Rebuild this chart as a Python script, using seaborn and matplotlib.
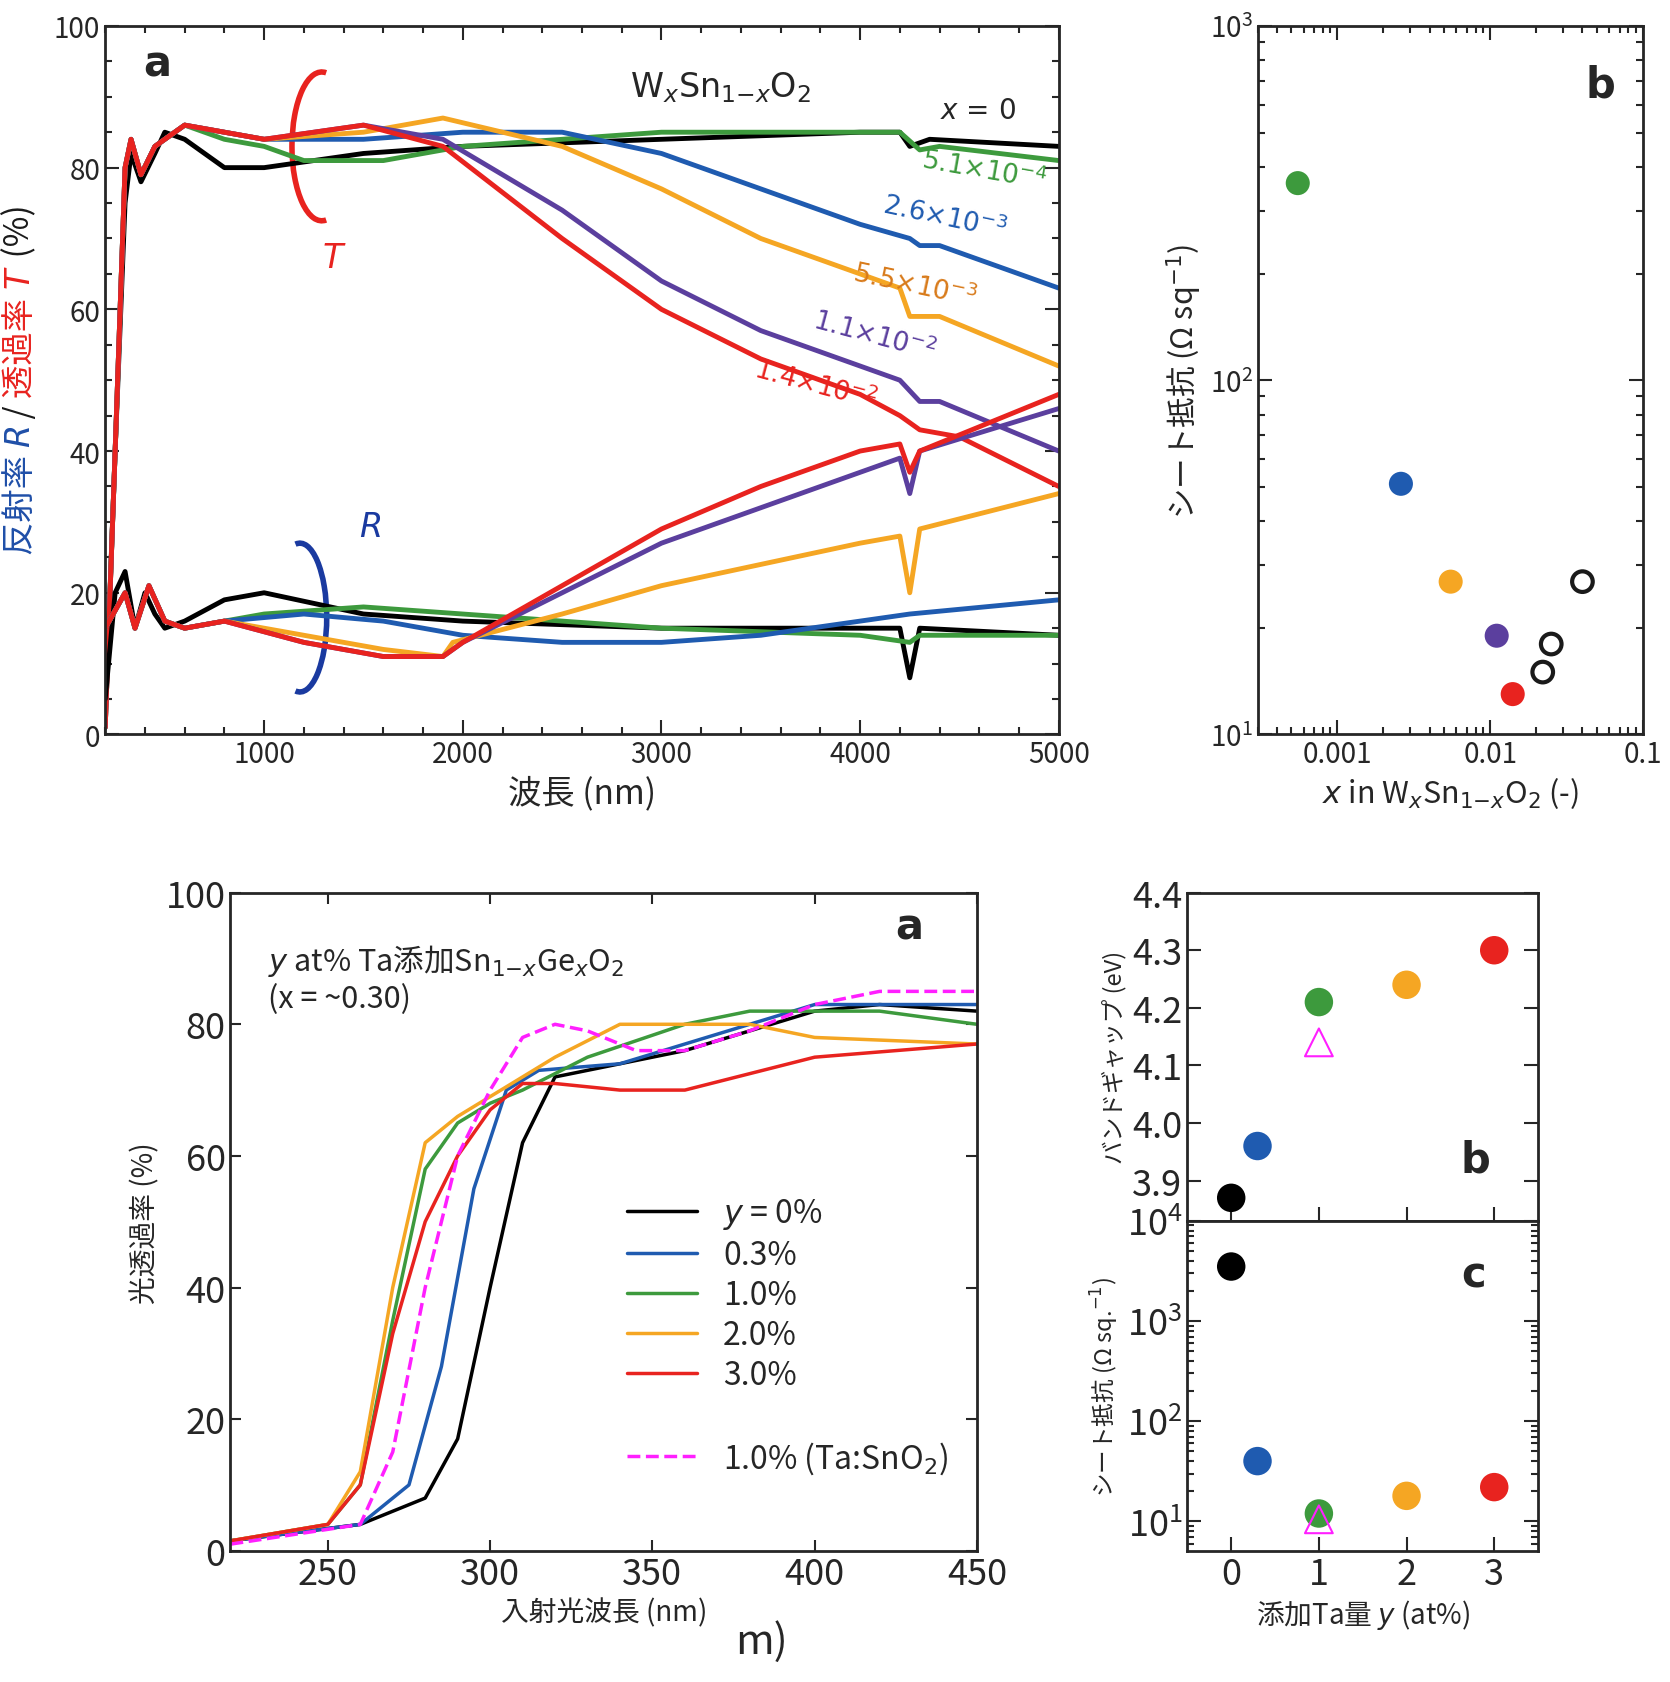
import numpy as np, pandas as pd
import matplotlib
matplotlib.use("Agg")
import matplotlib.pyplot as plt
import seaborn as sns
from matplotlib.patches import Arc

sns.set_theme(style="ticks")
plt.rcParams['font.family'] = ['Noto Sans CJK JP', 'DejaVu Sans']
plt.rcParams['axes.linewidth'] = 2.0

# ---------- panel a (top) data ----------
T_black = [(200,2),(250,40),(300,75),(330,82),(380,78),(450,82),(500,85),(600,84),(800,80),(1000,80),(1500,82),(2000,83),(3000,84),(4000,85),(4200,85),(4250,83),(4350,84),(5000,83)]
T_green = [(200,1),(250,40),(300,80),(330,84),(380,79),(450,83),(600,86),(800,84),(1000,83),(1200,81),(1600,81),(2000,83),(3000,85),(4000,85),(4200,85),(4300,82.5),(4400,83),(5000,81)]
T_blue = [(200,1),(250,40),(300,80),(330,84),(380,79),(450,83),(600,86),(1000,84),(1500,84),(2000,85),(2500,85),(3000,82),(3500,77),(4000,72),(4250,70),(4300,69),(4400,69),(5000,63)]
T_orange = [(200,1),(250,40),(300,80),(330,84),(380,79),(450,83),(600,86),(1000,84),(1500,85),(1900,87),(2500,83),(3000,77),(3500,70),(4000,65),(4200,63),(4250,59),(4400,59),(5000,52)]
T_purple = [(200,1),(250,40),(300,80),(330,84),(380,79),(450,83),(600,86),(1000,84),(1500,86),(1900,84),(2500,74),(3000,64),(3500,57),(4000,52),(4200,50),(4300,47),(4400,47),(5000,40)]
T_red = [(200,1),(250,40),(300,80),(330,84),(380,79),(450,83),(600,86),(1000,84),(1500,86),(1900,83),(2500,70),(3000,60),(3500,53),(4000,48),(4200,45),(4300,43),(4500,42),(5000,35)]
R_black = [(200,5),(250,20),(300,23),(350,15),(400,20),(450,17),(500,15),(600,16),(800,19),(1000,20),(1500,17),(2000,16),(3000,15),(4000,15),(4200,15),(4250,8),(4300,15),(5000,14)]
R_green = [(200,15),(300,20),(350,15),(420,21),(500,16),(600,15),(800,16),(1000,17),(1500,18),(2000,17),(2500,16),(3000,15),(4000,14),(4250,13),(4300,14),(5000,14)]
R_blue = [(200,15),(300,20),(350,15),(420,21),(500,16),(600,15),(800,16),(1200,17),(1600,16),(2000,14),(2500,13),(3000,13),(3500,14),(4000,16),(4250,17),(5000,19)]
R_orange = [(200,15),(300,20),(350,15),(420,21),(500,16),(600,15),(800,16),(1200,14),(1600,12),(1900,11),(1950,13),(2500,17),(3000,21),(4000,27),(4200,28),(4250,20),(4300,29),(5000,34)]
R_purple = [(200,15),(300,20),(350,15),(420,21),(500,16),(600,15),(800,16),(1200,13),(1600,11),(1900,11),(2000,13),(2500,20),(3000,27),(3500,32),(4000,37),(4200,39),(4250,34),(4300,40),(5000,46)]
R_red = [(200,15),(300,20),(350,15),(420,21),(500,16),(600,15),(800,16),(1200,13),(1600,11),(1900,11),(2000,13),(2500,21),(3000,29),(3500,35),(4000,40),(4200,41),(4250,37),(4300,40),(5000,48)]

C = dict(black='#000000', green='#3d9a3d', blue='#1f5bb0', orange='#f5a623', purple='#5b3f9e', red='#e8231f')

# ---------- panel b (top) ----------
xb = [0.00055, 0.0026, 0.0055, 0.011, 0.014]
rb = [360, 51, 27, 19, 13]
cb = ['green','blue','orange','purple','red']
xb_open = [0.022, 0.025, 0.04]
rb_open = [15, 18, 27]

# ---------- bottom a ----------
B_black = [(220,1.5),(260,4),(280,8),(290,17),(300,40),(310,62),(320,72),(340,74),(360,76),(400,82),(420,83),(450,82)]
B_blue = [(220,1.5),(260,4),(275,10),(285,28),(295,55),(305,70),(315,73),(340,74),(360,77),(400,83),(450,83)]
B_green = [(220,1.5),(250,4),(260,10),(270,35),(280,58),(290,65),(300,68),(310,70),(330,75),(360,80),(380,82),(420,82),(450,80)]
B_orange = [(220,1.5),(250,4),(260,12),(270,40),(280,62),(290,66),(300,69),(320,75),(340,80),(360,80),(380,80),(400,78),(450,77)]
B_red = [(220,1.5),(250,4),(260,10),(270,33),(280,50),(290,60),(300,67),(310,71),(320,71),(340,70),(360,70),(400,75),(450,77)]
B_mag = [(220,1),(260,4),(270,15),(280,40),(290,60),(300,70),(310,78),(320,80),(330,79),(345,76),(360,76),(380,79),(400,83),(420,85),(450,85)]

# ---------- bottom b,c ----------
y_ta = [0, 0.3, 1, 2, 3]
gap = [3.87, 3.96, 4.21, 4.24, 4.30]
rs = [3500, 40, 12, 18, 22]
cy = ['black','blue','green','orange','red']
tri_y = [1]; tri_gap = [4.14]; tri_rs = [10.5]

fig = plt.figure(figsize=(16.7, 16.83), dpi=100)

def line(ax, pts, col, **kw):
    d = pd.DataFrame(pts, columns=['x','y'])
    sns.lineplot(data=d, x='x', y='y', ax=ax, color=col, sort=False, estimator=None, **kw)

def style(ax):
    ax.tick_params(direction='in', which='both', top=True, right=True, width=1.5, labelsize=20)
    ax.tick_params(which='major', length=10)
    ax.tick_params(which='minor', length=5)

ax1 = fig.add_axes([0.063, 0.563, 0.571, 0.421])
for pts, c in [(T_black,'black'),(T_green,'green'),(T_blue,'blue'),(T_orange,'orange'),(T_purple,'purple'),(T_red,'red'),
               (R_black,'black'),(R_green,'green'),(R_blue,'blue'),(R_orange,'orange'),(R_purple,'purple'),(R_red,'red')]:
    line(ax1, pts, C[c], lw=3.5)
ax1.set_xlim(200, 5000); ax1.set_ylim(0, 100)
ax1.set_xticks([1000,2000,3000,4000,5000]); ax1.set_yticks([0,20,40,60,80,100])
ax1.set_xticks(np.arange(200,5001,200), minor=True); ax1.set_yticks(np.arange(0,101,5), minor=True)
style(ax1)
ax1.set_xlabel('波長 (nm)', fontsize=24)
ax1.set_ylabel('')
yl = [('反射率 ','#1f4fa8'),('$R$','#1f4fa8'),(' / ','k'),('透過率 ','#e8231f'),('$T$','#e8231f'),(' (%)','k')]
ypos = 0.67
for s, col in yl:
    t = fig.text(0.012, ypos, s, color=col, rotation=90, fontsize=24, ha='center', va='bottom')
    fig.canvas.draw()
    bb = t.get_window_extent()
    ypos += bb.height / fig.bbox.height
ax1.text(0.04, 0.93, 'a', transform=ax1.transAxes, fontsize=30, fontweight='bold', family='DejaVu Sans')
ax1.text(0.55, 0.9, r'W$_x$Sn$_{1\mathrm{-}x}$O$_2$', transform=ax1.transAxes, fontsize=24, family='DejaVu Sans')
ax1.text(0.875, 0.87, r'$x$ = 0', transform=ax1.transAxes, fontsize=20, family='DejaVu Sans')
for (s, x, y, c, r) in [('5.1×10$^{-4}$',4300,77,'green',-10),('2.6×10$^{-3}$',4100,70,'blue',-12),
                        ('5.5×10$^{-3}$',3950,60.5,'#d87a1a',-12),('1.1×10$^{-2}$',3750,53,'purple',-15),
                        ('1.4×10$^{-2}$',3450,46,'red',-15)]:
    ax1.text(x, y, s, color=C.get(c, c), fontsize=19, rotation=r, family='DejaVu Sans')
ax1.add_patch(Arc((1290, 83), 300, 21, theta1=25, theta2=335, color=C['red'], lw=4))
ax1.text(1290, 66, '$T$', color=C['red'], fontsize=24, family='DejaVu Sans')
ax1.add_patch(Arc((1180, 16.5), 270, 21, theta1=-155, theta2=155, color='#1a3aa0', lw=4))
ax1.text(1480, 28, '$R$', color='#1a3aa0', fontsize=24, family='DejaVu Sans')

ax2 = fig.add_axes([0.753, 0.563, 0.231, 0.421])
sns.scatterplot(x=xb, y=rb, hue=cb, palette={k: C[k] for k in cb}, s=300, ax=ax2, legend=False, linewidth=0)
sns.scatterplot(x=xb_open, y=rb_open, s=220, ax=ax2, facecolor='none', edgecolor='k', linewidth=3, legend=False)
ax2.set_xscale('log'); ax2.set_yscale('log')
ax2.set_xlim(0.0003, 0.1); ax2.set_ylim(10, 1000)
ax2.set_xticks([0.001,0.01,0.1]); ax2.set_xticklabels(['0.001','0.01','0.1'])
style(ax2)
ax2.set_xlabel(r'$x$ in W$_x$Sn$_{1\mathrm{-}x}$O$_2$ (-)', fontsize=22)
ax2.set_ylabel('シート抵抗 (Ω sq$^{-1}$)', fontsize=22)
ax2.text(0.85, 0.9, 'b', transform=ax2.transAxes, fontsize=30, fontweight='bold', family='DejaVu Sans')

ax3 = fig.add_axes([0.138, 0.078, 0.447, 0.391])
for pts, c, lab in [(B_black,'black','$y$ = 0%'),(B_blue,'blue','0.3%'),(B_green,'green','1.0%'),(B_orange,'orange','2.0%'),(B_red,'red','3.0%')]:
    line(ax3, pts, C[c], lw=2.5, label=lab)
line(ax3, B_mag, '#ff1fff', lw=2.5, ls='--', label='1.0% (Ta:SnO$_2$)')
ax3.set_xlim(220, 450); ax3.set_ylim(0, 100)
ax3.set_xticks([250,300,350,400,450]); ax3.set_yticks([0,20,40,60,80,100])
style(ax3); ax3.tick_params(labelsize=26, length=8)
ax3.set_xlabel('入射光波長 (nm)', fontsize=20); ax3.set_ylabel('光透過率 (%)', fontsize=20)
h, l = ax3.get_legend_handles_labels()
h = h[:5] + [plt.Line2D([], [], alpha=0)] + h[5:]; l = l[:5] + [''] + l[5:]
ax3.legend(h, l, loc='lower right', bbox_to_anchor=(1.0, 0.07), frameon=False, fontsize=23, handlelength=2.2, labelspacing=0.25)
ax3.text(0.05, 0.87, '$y$ at% Ta添加Sn$_{1\\mathrm{-}x}$Ge$_x$O$_2$\n(x = ~0.30)', transform=ax3.transAxes, fontsize=22, va='center')
ax3.text(0.89, 0.93, 'a', transform=ax3.transAxes, fontsize=30, fontweight='bold', family='DejaVu Sans')
fig.text(0.44, 0.017, 'm)', fontsize=30)

ax4 = fig.add_axes([0.711, 0.274, 0.21, 0.195])
sns.scatterplot(x=y_ta, y=gap, hue=cy, palette={k: C[k] for k in cy}, s=420, ax=ax4, legend=False, linewidth=0)
sns.scatterplot(x=tri_y, y=tri_gap, marker='^', s=400, facecolor='none', edgecolor='#ff1fff', linewidth=1.5, ax=ax4, legend=False)
ax4.set_xlim(-0.5, 3.5); ax4.set_ylim(3.83, 4.4)
ax4.set_yticks(np.arange(3.9, 4.41, 0.1)); ax4.set_yticklabels([f'{v:.1f}' for v in np.arange(3.9, 4.41, 0.1)])
ax4.set_xticks([0,1,2,3]); ax4.set_xticklabels([])
style(ax4); ax4.tick_params(labelsize=26, top=False)
ax4.set_ylabel('バンドギャップ (eV)', fontsize=17)
ax4.text(0.78, 0.15, 'b', transform=ax4.transAxes, fontsize=30, fontweight='bold', family='DejaVu Sans')

ax5 = fig.add_axes([0.711, 0.078, 0.21, 0.196])
sns.scatterplot(x=y_ta, y=rs, hue=cy, palette={k: C[k] for k in cy}, s=420, ax=ax5, legend=False, linewidth=0)
sns.scatterplot(x=tri_y, y=tri_rs, marker='^', s=400, facecolor='none', edgecolor='#ff1fff', linewidth=1.5, ax=ax5, legend=False)
ax5.set_yscale('log'); ax5.set_xlim(-0.5, 3.5); ax5.set_ylim(5.1, 1e4)
ax5.set_xticks([0,1,2,3])
style(ax5); ax5.tick_params(labelsize=26, top=False)
ax5.set_xlabel('添加Ta量 $y$ (at%)', fontsize=20)
ax5.set_ylabel('シート抵抗 (Ω sq.$^{-1}$)', fontsize=17)
ax5.text(0.78, 0.8, 'c', transform=ax5.transAxes, fontsize=30, fontweight='bold', family='DejaVu Sans')

fig.savefig('out.png', dpi=100)
